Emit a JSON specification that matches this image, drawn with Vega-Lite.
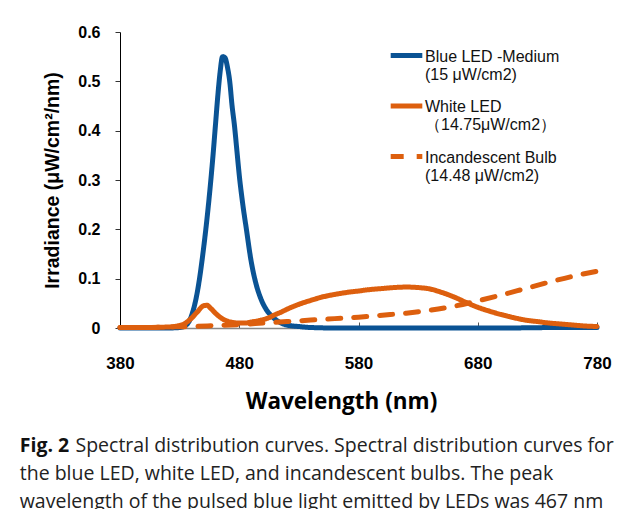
{
  "$schema": "https://vega.github.io/schema/vega-lite/v6.json",
  "width": 477,
  "height": 296,
  "autosize": {"type": "none"},
  "padding": {"left": 120, "top": 32, "right": 39, "bottom": 181},
  "background": "white",
  "config": {
    "view": {"stroke": null},
    "legend": {
      "orient": "none",
      "legendX": 268,
      "legendY": 5,
      "symbolType": "stroke",
      "symbolSize": 1000,
      "symbolStrokeWidth": 5,
      "labelFont": "Liberation Sans",
      "labelFontSize": 16,
      "labelColor": "#111",
      "labelLimit": 300,
      "labelOffset": 0,
      "labelLineHeight": 19,
      "rowPadding": 4.5,
      "labelBaseline": "top"
    }
  },
  "title": {
    "text": "Fig. 2",
    "subtitle": [
      "\u200b\u00a0\u00a0\u00a0\u00a0\u00a0\u00a0\u00a0\u00a0\u00a0\u00a0\u00a0Spectral distribution curves. Spectral distribution curves for",
      "the blue LED, white LED, and incandescent bulbs. The peak",
      "wavelength of the pulsed blue light emitted by LEDs was 467 nm"
    ],
    "orient": "bottom",
    "anchor": "start",
    "frame": "bounds",
    "dx": -23,
    "offset": 24,
    "font": "Open Sans",
    "fontSize": 19.5,
    "fontWeight": "bold",
    "color": "#111",
    "subtitleFont": "Open Sans",
    "subtitleFontSize": 19.5,
    "subtitleFontWeight": "normal",
    "subtitleColor": "#222",
    "subtitleLineHeight": 28,
    "subtitlePadding": -19.5
  },
  "data": {
    "values": [
      {"series": "Blue LED -Medium\n(15 μW/cm2)", "nm": 380, "v": 0},
      {"series": "Blue LED -Medium\n(15 μW/cm2)", "nm": 400, "v": 0},
      {"series": "Blue LED -Medium\n(15 μW/cm2)", "nm": 420, "v": 0},
      {"series": "Blue LED -Medium\n(15 μW/cm2)", "nm": 430, "v": 0.001},
      {"series": "Blue LED -Medium\n(15 μW/cm2)", "nm": 435, "v": 0.005},
      {"series": "Blue LED -Medium\n(15 μW/cm2)", "nm": 440, "v": 0.025},
      {"series": "Blue LED -Medium\n(15 μW/cm2)", "nm": 445, "v": 0.075},
      {"series": "Blue LED -Medium\n(15 μW/cm2)", "nm": 450, "v": 0.16},
      {"series": "Blue LED -Medium\n(15 μW/cm2)", "nm": 455, "v": 0.27},
      {"series": "Blue LED -Medium\n(15 μW/cm2)", "nm": 458, "v": 0.35},
      {"series": "Blue LED -Medium\n(15 μW/cm2)", "nm": 460, "v": 0.41},
      {"series": "Blue LED -Medium\n(15 μW/cm2)", "nm": 462, "v": 0.47},
      {"series": "Blue LED -Medium\n(15 μW/cm2)", "nm": 464, "v": 0.52},
      {"series": "Blue LED -Medium\n(15 μW/cm2)", "nm": 466, "v": 0.55},
      {"series": "Blue LED -Medium\n(15 μW/cm2)", "nm": 468, "v": 0.548},
      {"series": "Blue LED -Medium\n(15 μW/cm2)", "nm": 470, "v": 0.53},
      {"series": "Blue LED -Medium\n(15 μW/cm2)", "nm": 472, "v": 0.5},
      {"series": "Blue LED -Medium\n(15 μW/cm2)", "nm": 474, "v": 0.45},
      {"series": "Blue LED -Medium\n(15 μW/cm2)", "nm": 476, "v": 0.41},
      {"series": "Blue LED -Medium\n(15 μW/cm2)", "nm": 478, "v": 0.36},
      {"series": "Blue LED -Medium\n(15 μW/cm2)", "nm": 480, "v": 0.31},
      {"series": "Blue LED -Medium\n(15 μW/cm2)", "nm": 483, "v": 0.25},
      {"series": "Blue LED -Medium\n(15 μW/cm2)", "nm": 486, "v": 0.2},
      {"series": "Blue LED -Medium\n(15 μW/cm2)", "nm": 490, "v": 0.135},
      {"series": "Blue LED -Medium\n(15 μW/cm2)", "nm": 494, "v": 0.09},
      {"series": "Blue LED -Medium\n(15 μW/cm2)", "nm": 498, "v": 0.06},
      {"series": "Blue LED -Medium\n(15 μW/cm2)", "nm": 502, "v": 0.04},
      {"series": "Blue LED -Medium\n(15 μW/cm2)", "nm": 506, "v": 0.027},
      {"series": "Blue LED -Medium\n(15 μW/cm2)", "nm": 510, "v": 0.018},
      {"series": "Blue LED -Medium\n(15 μW/cm2)", "nm": 515, "v": 0.01},
      {"series": "Blue LED -Medium\n(15 μW/cm2)", "nm": 520, "v": 0.006},
      {"series": "Blue LED -Medium\n(15 μW/cm2)", "nm": 530, "v": 0.003},
      {"series": "Blue LED -Medium\n(15 μW/cm2)", "nm": 540, "v": 0.001},
      {"series": "Blue LED -Medium\n(15 μW/cm2)", "nm": 560, "v": 0},
      {"series": "Blue LED -Medium\n(15 μW/cm2)", "nm": 600, "v": 0},
      {"series": "Blue LED -Medium\n(15 μW/cm2)", "nm": 650, "v": 0},
      {"series": "Blue LED -Medium\n(15 μW/cm2)", "nm": 700, "v": 0},
      {"series": "Blue LED -Medium\n(15 μW/cm2)", "nm": 750, "v": 0.001},
      {"series": "Blue LED -Medium\n(15 μW/cm2)", "nm": 780, "v": 0.001},
      {"series": "White LED\n（14.75μW/cm2）", "nm": 380, "v": 0.001},
      {"series": "White LED\n（14.75μW/cm2）", "nm": 400, "v": 0.001},
      {"series": "White LED\n（14.75μW/cm2）", "nm": 420, "v": 0.002},
      {"series": "White LED\n（14.75μW/cm2）", "nm": 430, "v": 0.005},
      {"series": "White LED\n（14.75μW/cm2）", "nm": 435, "v": 0.01},
      {"series": "White LED\n（14.75μW/cm2）", "nm": 440, "v": 0.02},
      {"series": "White LED\n（14.75μW/cm2）", "nm": 445, "v": 0.033},
      {"series": "White LED\n（14.75μW/cm2）", "nm": 450, "v": 0.045},
      {"series": "White LED\n（14.75μW/cm2）", "nm": 453, "v": 0.046},
      {"series": "White LED\n（14.75μW/cm2）", "nm": 456, "v": 0.04},
      {"series": "White LED\n（14.75μW/cm2）", "nm": 460, "v": 0.03},
      {"series": "White LED\n（14.75μW/cm2）", "nm": 465, "v": 0.02},
      {"series": "White LED\n（14.75μW/cm2）", "nm": 470, "v": 0.014},
      {"series": "White LED\n（14.75μW/cm2）", "nm": 475, "v": 0.011},
      {"series": "White LED\n（14.75μW/cm2）", "nm": 480, "v": 0.01},
      {"series": "White LED\n（14.75μW/cm2）", "nm": 485, "v": 0.01},
      {"series": "White LED\n（14.75μW/cm2）", "nm": 490, "v": 0.012},
      {"series": "White LED\n（14.75μW/cm2）", "nm": 495, "v": 0.014},
      {"series": "White LED\n（14.75μW/cm2）", "nm": 500, "v": 0.017},
      {"series": "White LED\n（14.75μW/cm2）", "nm": 505, "v": 0.021},
      {"series": "White LED\n（14.75μW/cm2）", "nm": 510, "v": 0.027},
      {"series": "White LED\n（14.75μW/cm2）", "nm": 515, "v": 0.032},
      {"series": "White LED\n（14.75μW/cm2）", "nm": 520, "v": 0.038},
      {"series": "White LED\n（14.75μW/cm2）", "nm": 530, "v": 0.048},
      {"series": "White LED\n（14.75μW/cm2）", "nm": 540, "v": 0.056},
      {"series": "White LED\n（14.75μW/cm2）", "nm": 550, "v": 0.063},
      {"series": "White LED\n（14.75μW/cm2）", "nm": 560, "v": 0.068},
      {"series": "White LED\n（14.75μW/cm2）", "nm": 570, "v": 0.072},
      {"series": "White LED\n（14.75μW/cm2）", "nm": 580, "v": 0.075},
      {"series": "White LED\n（14.75μW/cm2）", "nm": 590, "v": 0.078},
      {"series": "White LED\n（14.75μW/cm2）", "nm": 600, "v": 0.08},
      {"series": "White LED\n（14.75μW/cm2）", "nm": 610, "v": 0.082},
      {"series": "White LED\n（14.75μW/cm2）", "nm": 620, "v": 0.083},
      {"series": "White LED\n（14.75μW/cm2）", "nm": 630, "v": 0.082},
      {"series": "White LED\n（14.75μW/cm2）", "nm": 640, "v": 0.079},
      {"series": "White LED\n（14.75μW/cm2）", "nm": 650, "v": 0.072},
      {"series": "White LED\n（14.75μW/cm2）", "nm": 660, "v": 0.063},
      {"series": "White LED\n（14.75μW/cm2）", "nm": 670, "v": 0.052},
      {"series": "White LED\n（14.75μW/cm2）", "nm": 680, "v": 0.042},
      {"series": "White LED\n（14.75μW/cm2）", "nm": 690, "v": 0.034},
      {"series": "White LED\n（14.75μW/cm2）", "nm": 700, "v": 0.027},
      {"series": "White LED\n（14.75μW/cm2）", "nm": 710, "v": 0.021},
      {"series": "White LED\n（14.75μW/cm2）", "nm": 720, "v": 0.016},
      {"series": "White LED\n（14.75μW/cm2）", "nm": 730, "v": 0.013},
      {"series": "White LED\n（14.75μW/cm2）", "nm": 740, "v": 0.01},
      {"series": "White LED\n（14.75μW/cm2）", "nm": 750, "v": 0.008},
      {"series": "White LED\n（14.75μW/cm2）", "nm": 760, "v": 0.006},
      {"series": "White LED\n（14.75μW/cm2）", "nm": 770, "v": 0.004},
      {"series": "White LED\n（14.75μW/cm2）", "nm": 780, "v": 0.003},
      {"series": "Incandescent Bulb\n(14.48 μW/cm2)", "nm": 380, "v": 0.001},
      {"series": "Incandescent Bulb\n(14.48 μW/cm2)", "nm": 400, "v": 0.001},
      {"series": "Incandescent Bulb\n(14.48 μW/cm2)", "nm": 420, "v": 0.002},
      {"series": "Incandescent Bulb\n(14.48 μW/cm2)", "nm": 440, "v": 0.003},
      {"series": "Incandescent Bulb\n(14.48 μW/cm2)", "nm": 460, "v": 0.005},
      {"series": "Incandescent Bulb\n(14.48 μW/cm2)", "nm": 480, "v": 0.007},
      {"series": "Incandescent Bulb\n(14.48 μW/cm2)", "nm": 500, "v": 0.01},
      {"series": "Incandescent Bulb\n(14.48 μW/cm2)", "nm": 520, "v": 0.013},
      {"series": "Incandescent Bulb\n(14.48 μW/cm2)", "nm": 540, "v": 0.016},
      {"series": "Incandescent Bulb\n(14.48 μW/cm2)", "nm": 560, "v": 0.019},
      {"series": "Incandescent Bulb\n(14.48 μW/cm2)", "nm": 580, "v": 0.022},
      {"series": "Incandescent Bulb\n(14.48 μW/cm2)", "nm": 600, "v": 0.026},
      {"series": "Incandescent Bulb\n(14.48 μW/cm2)", "nm": 620, "v": 0.03},
      {"series": "Incandescent Bulb\n(14.48 μW/cm2)", "nm": 640, "v": 0.036},
      {"series": "Incandescent Bulb\n(14.48 μW/cm2)", "nm": 660, "v": 0.044},
      {"series": "Incandescent Bulb\n(14.48 μW/cm2)", "nm": 680, "v": 0.055},
      {"series": "Incandescent Bulb\n(14.48 μW/cm2)", "nm": 700, "v": 0.067},
      {"series": "Incandescent Bulb\n(14.48 μW/cm2)", "nm": 720, "v": 0.08},
      {"series": "Incandescent Bulb\n(14.48 μW/cm2)", "nm": 740, "v": 0.093},
      {"series": "Incandescent Bulb\n(14.48 μW/cm2)", "nm": 760, "v": 0.105},
      {"series": "Incandescent Bulb\n(14.48 μW/cm2)", "nm": 780, "v": 0.115}
    ]
  },
  "mark": {"type": "line", "strokeWidth": 5, "interpolate": "monotone", "strokeCap": "round"},
  "encoding": {
    "x": {
      "field": "nm",
      "type": "quantitative",
      "scale": {"domain": [380, 780], "nice": false},
      "axis": {
        "values": [380, 480, 580, 680, 780],
        "title": "Wavelength (nm)",
        "titleFont": "Open Sans",
        "titleFontSize": 22.5,
        "titleFontWeight": "bold",
        "titleColor": "#000",
        "titlePadding": 19,
        "titleX": 221,
        "labelFont": "Liberation Sans",
        "labelFontSize": 17,
        "labelFontWeight": "bold",
        "labelColor": "#000",
        "labelPadding": 33,
        "labelFlush": false,
        "labelOverlap": false,
        "tickSize": -6,
        "tickColor": "#555",
        "domainColor": "#888",
        "domainWidth": 1.5,
        "grid": false
      }
    },
    "y": {
      "field": "v",
      "type": "quantitative",
      "scale": {"domain": [0, 0.6], "nice": false},
      "axis": {
        "values": [0, 0.1, 0.2, 0.3, 0.4, 0.5, 0.6],
        "labelExpr": "datum.value == 0 ? '0' : format(datum.value, '.1f')",
        "title": "Irradiance (μW/cm²/nm)",
        "titleFont": "Liberation Sans",
        "titleFontSize": 19.5,
        "titleFontWeight": "bold",
        "titleColor": "#000",
        "titlePadding": 15,
        "labelFont": "Liberation Sans",
        "labelFontSize": 16,
        "labelFontWeight": "bold",
        "labelColor": "#000",
        "labelPadding": 15,
        "labelFlush": false,
        "tickSize": 5,
        "tickColor": "#333",
        "domainColor": "#000",
        "grid": false
      }
    },
    "color": {
      "field": "series",
      "type": "nominal",
      "sort": null,
      "scale": {
        "domain": ["Blue LED -Medium\n(15 μW/cm2)", "White LED\n（14.75μW/cm2）", "Incandescent Bulb\n(14.48 μW/cm2)"],
        "range": ["#0A5394", "#DD5F0E", "#DD5F0E"]
      },
      "legend": {
        "title": null,
        "labelExpr": "split(datum.label, '\\n')",
        "encode": {"labels": {"update": {"dy": {"value": -7}}}}
      }
    },
    "strokeDash": {
      "field": "series",
      "type": "nominal",
      "sort": null,
      "scale": {
        "domain": ["Blue LED -Medium\n(15 μW/cm2)", "White LED\n（14.75μW/cm2）", "Incandescent Bulb\n(14.48 μW/cm2)"],
        "range": [[1, 0], [1, 0], [13, 13]]
      },
      "legend": {
        "title": null,
        "labelExpr": "split(datum.label, '\\n')",
        "encode": {"labels": {"update": {"dy": {"value": -7}}}}
      }
    }
  }
}
